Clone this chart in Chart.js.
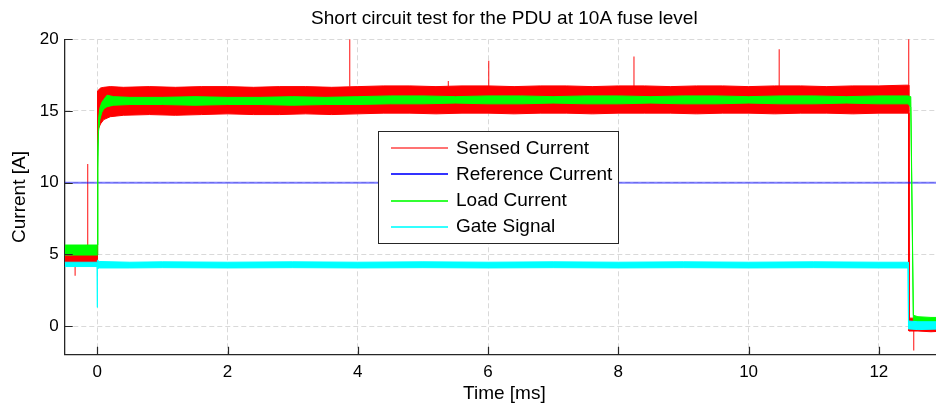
<!DOCTYPE html>
<html>
<head>
<meta charset="utf-8">
<title>Short circuit test for the PDU at 10A fuse level</title>
<script src="https://cdn.jsdelivr.net/npm/chart.js@4.4.1/dist/chart.umd.min.js"></script>
<style>
  html, body { margin: 0; padding: 0; background: #ffffff; overflow: hidden; }
  canvas { display: block; }
</style>
</head>
<body>
<canvas id="pduChart" width="1009" height="405"></canvas>
<script>
// ---- Measured signals (time in ms, current in A) ----------------------------
// Each noisy trace is stored as the upper / lower edge of its noise band.

const chartTitle   = 'Short circuit test for the PDU at 10A fuse level';
const seriesNames  = ['Sensed Current', 'Reference Current', 'Load Current', 'Gate Signal'];
const seriesColors = ['#ff0000', '#0000ff', '#00ff00', '#00ffff'];

const timeTicks    = [0, 2, 4, 6, 8, 10, 12];
const currentTicks = [0, 5, 10, 15, 20];

// Sensed current
const sensedTime = [-0.5, -0.002, 0.004, 0.05, 0.1, 0.2, 0.4, 0.8, 1.2, 1.6, 2.0, 2.4, 2.8, 3.2, 3.6, 4.0, 4.4, 4.8, 5.2, 5.6, 6.0, 6.4, 6.8, 7.2, 7.6, 8.0, 8.4, 8.8, 9.2, 9.6, 10.0, 10.4, 10.8, 11.2, 11.6, 12.0, 12.4, 12.455, 12.462, 12.6, 12.8, 13.0];
const sensedHigh = [4.95, 4.95, 16.4, 16.6, 16.65, 16.7, 16.65, 16.7, 16.65, 16.7, 16.7, 16.65, 16.7, 16.7, 16.65, 16.7, 16.75, 16.75, 16.7, 16.75, 16.75, 16.7, 16.75, 16.75, 16.7, 16.75, 16.75, 16.7, 16.75, 16.75, 16.7, 16.75, 16.75, 16.7, 16.75, 16.75, 16.8, 16.8, 0.55, 0.55, 0.5, 0.55];
const sensedLow  = [4.3, 4.3, 13.6, 14.1, 14.4, 14.6, 14.7, 14.75, 14.7, 14.75, 14.8, 14.75, 14.75, 14.8, 14.75, 14.8, 14.85, 14.85, 14.8, 14.85, 14.85, 14.8, 14.85, 14.85, 14.8, 14.85, 14.85, 14.85, 14.8, 14.85, 14.85, 14.8, 14.85, 14.85, 14.8, 14.85, 14.85, 14.85, -0.35, -0.35, -0.4, -0.35];
// Isolated transients on the sensed current
const sensedSpikeTime = [-0.34, -0.147, 3.876, 5.39, 6.01, 8.24, 10.47, 12.458, 12.535];
const sensedSpikeFrom = [4.3, 4.95, 16.7, 16.75, 16.75, 16.75, 16.75, 16.8, -0.35];
const sensedSpikeTo   = [3.5, 11.3, 20.0, 17.1, 18.5, 18.8, 19.3, 20.5, -1.7];

// Reference current
const referenceTime  = [-0.5, 13.0];
const referenceLevel = [10, 10];

// Load current
const loadTime = [-0.5, -0.002, 0.008, 0.02, 0.04, 0.07, 0.1, 0.15, 0.25, 0.5, 1.0, 1.5, 2.0, 2.5, 3.0, 3.5, 4.0, 4.5, 5.0, 5.5, 6.0, 6.5, 7.0, 7.5, 8.0, 8.5, 9.0, 9.5, 10.0, 10.5, 11.0, 11.5, 12.0, 12.45, 12.49, 12.53, 12.6, 12.8, 13.0];
const loadHigh = [5.65, 5.65, 12.5, 14.5, 15.2, 15.6, 15.8, 16.1, 16.0, 15.95, 15.95, 16.0, 15.95, 15.95, 16.0, 15.95, 16.0, 16.05, 16.05, 16.0, 16.05, 16.05, 16.0, 16.05, 16.05, 16.0, 16.05, 16.05, 16.0, 16.05, 16.05, 16.0, 16.05, 16.05, 16.0, 0.75, 0.65, 0.6, 0.6];
const loadLow  = [4.95, 4.95, 11.0, 13.6, 14.4, 14.9, 15.15, 15.3, 15.4, 15.45, 15.45, 15.4, 15.45, 15.45, 15.4, 15.45, 15.45, 15.5, 15.5, 15.55, 15.5, 15.5, 15.55, 15.5, 15.5, 15.55, 15.5, 15.5, 15.55, 15.5, 15.5, 15.55, 15.5, 15.5, 15.25, 0.25, 0.2, 0.2, 0.2];

// Gate signal
const gateTime = [-0.5, -0.003, 0.0, 0.003, 0.03, 0.5, 1.0, 2.0, 3.0, 4.0, 5.0, 6.0, 7.0, 8.0, 9.0, 10.0, 11.0, 12.0, 12.448, 12.455, 12.6, 13.0];
const gateHigh = [4.45, 4.45, 4.5, 4.6, 4.5, 4.45, 4.48, 4.45, 4.48, 4.45, 4.48, 4.45, 4.48, 4.45, 4.48, 4.45, 4.48, 4.45, 4.45, 0.35, 0.3, 0.3];
const gateLow  = [4.15, 4.15, 1.3, 4.0, 4.05, 4.05, 4.07, 4.05, 4.07, 4.05, 4.07, 4.05, 4.07, 4.05, 4.07, 4.05, 4.07, 4.05, 4.05, -0.2, -0.25, -0.2];

// ---- Styling -----------------------------------------------------------------
const FONT = '"Liberation Sans", Arial, Helvetica, sans-serif';
const AXIS_COLOR = '#262626';
const TEXT_COLOR = '#000000';
const GRID_COLOR = '#d9d9d9';

Chart.defaults.font.family = FONT;
Chart.defaults.color = TEXT_COLOR;

const toPoints = (xs, ys) => xs.map((x, i) => ({ x: x, y: ys[i] }));
const toSegments = (ts, from, to) =>
  ts.flatMap((t, i) => [{ x: t, y: from[i] }, { x: t, y: to[i] }, { x: t, y: null }]);

function bandDatasets(name, xs, hi, lo, color, order) {
  const common = { borderColor: color, backgroundColor: color, borderWidth: 1,
                   pointRadius: 0, tension: 0, order: order };
  return [
    Object.assign({ label: name, data: toPoints(xs, hi), fill: '+1' }, common),
    Object.assign({ label: name + ' min', data: toPoints(xs, lo), fill: false }, common)
  ];
}

// Draw order: later series on top (gate over load over reference over sensed)
const datasets = [
  ...bandDatasets(seriesNames[0], sensedTime, sensedHigh, sensedLow, seriesColors[0], 3),
  { label: seriesNames[0] + ' transients', data: toSegments(sensedSpikeTime, sensedSpikeFrom, sensedSpikeTo),
    borderColor: 'rgba(255,0,0,0.8)', borderWidth: 1.2, pointRadius: 0, spanGaps: false, fill: false, order: 3 },
  { label: seriesNames[1], data: toPoints(referenceTime, referenceLevel),
    borderColor: 'rgba(0,0,255,0.5)', borderWidth: 2, pointRadius: 0, fill: false, order: 2 },
  ...bandDatasets(seriesNames[2], loadTime, loadHigh, loadLow, seriesColors[2], 1),
  ...bandDatasets(seriesNames[3], gateTime, gateHigh, gateLow, seriesColors[3], 0)
];

// Title centred over the plotting area
const plotTitle = {
  id: 'plotTitle',
  afterDraw(chart) {
    const { ctx, chartArea: a } = chart;
    ctx.save();
    ctx.font = '19px ' + FONT;
    ctx.fillStyle = TEXT_COLOR;
    ctx.textAlign = 'center';
    ctx.textBaseline = 'middle';
    ctx.fillText(chartTitle, (a.left + a.right) / 2, 19.1);
    ctx.restore();
  }
};

// Inward tick marks on the left and bottom axes
const inwardTicks = {
  id: 'inwardTicks',
  afterDatasetsDraw(chart) {
    const { ctx, chartArea: a, scales: { x, y } } = chart;
    ctx.save();
    ctx.strokeStyle = AXIS_COLOR;
    ctx.lineWidth = 1.2;
    ctx.beginPath();
    x.ticks.forEach(t => {
      const px = Math.round(x.getPixelForValue(t.value)) + 0.5;
      ctx.moveTo(px, a.bottom); ctx.lineTo(px, a.bottom - 8);
    });
    y.ticks.forEach(t => {
      const py = Math.round(y.getPixelForValue(t.value)) + 0.5;
      ctx.moveTo(a.left, py); ctx.lineTo(a.left + 8, py);
    });
    ctx.stroke();
    ctx.restore();
  }
};

// Boxed legend inside the plot
const boxedLegend = {
  id: 'boxedLegend',
  afterDraw(chart) {
    const ctx = chart.ctx;
    const left = 378.5, top = 131.5, width = 240, height = 112;
    const rowY = 148.3, rowStep = 26.1;
    ctx.save();
    ctx.fillStyle = '#ffffff';
    ctx.fillRect(left, top, width, height);
    ctx.strokeStyle = AXIS_COLOR;
    ctx.lineWidth = 1;
    ctx.strokeRect(left, top, width, height);
    ctx.font = '19px ' + FONT;
    ctx.textBaseline = 'middle';
    ctx.textAlign = 'left';
    seriesNames.forEach((name, i) => {
      const yy = Math.round(rowY + i * rowStep);
      ctx.strokeStyle = seriesColors[i];
      ctx.globalAlpha = i === 0 ? 0.55 : 0.8;
      ctx.lineWidth = 2;
      ctx.beginPath();
      ctx.moveTo(391, yy);
      ctx.lineTo(448, yy);
      ctx.stroke();
      ctx.globalAlpha = 1;
      ctx.fillStyle = TEXT_COLOR;
      ctx.fillText(name, 456, rowY + i * rowStep);
    });
    ctx.restore();
  }
};

new Chart(document.getElementById('pduChart'), {
  type: 'line',
  data: { datasets: datasets },
  options: {
    responsive: false,
    animation: false,
    devicePixelRatio: 1,
    events: [],
    layout: { padding: { left: 0, right: 65, top: 39.3, bottom: 0 } },
    plugins: {
      legend: { display: false },
      tooltip: { enabled: false },
      filler: { propagate: false },
      title: { display: false }
    },
    scales: {
      x: {
        type: 'linear',
        min: -0.5,
        max: 13,
        afterBuildTicks: s => { s.ticks = timeTicks.map(v => ({ value: v })); },
        afterFit: s => { s.height = 50.3; },
        ticks: { font: { size: 17 }, color: TEXT_COLOR, padding: 7.3, maxRotation: 0, autoSkip: false },
        grid: { color: GRID_COLOR, lineWidth: 1, drawTicks: false },
        border: { display: true, color: AXIS_COLOR, width: 1.3, dash: [5, 3] },
        title: { display: true, text: 'Time [ms]', color: TEXT_COLOR, font: { size: 19 }, padding: { top: 0, bottom: 0 } }
      },
      y: {
        type: 'linear',
        min: -2,
        max: 20,
        afterBuildTicks: s => { s.ticks = currentTicks.map(v => ({ value: v })); },
        afterFit: s => { s.width = 64.7; },
        ticks: { font: { size: 17 }, color: TEXT_COLOR, padding: 6, autoSkip: false },
        grid: { color: GRID_COLOR, lineWidth: 1, drawTicks: false },
        border: { display: true, color: AXIS_COLOR, width: 1.3, dash: [5, 3] },
        title: { display: true, text: 'Current [A]', color: TEXT_COLOR, font: { size: 19 }, padding: { top: 8.7, bottom: 0 } }
      }
    }
  },
  plugins: [inwardTicks, boxedLegend, plotTitle]
});
</script>
</body>
</html>
